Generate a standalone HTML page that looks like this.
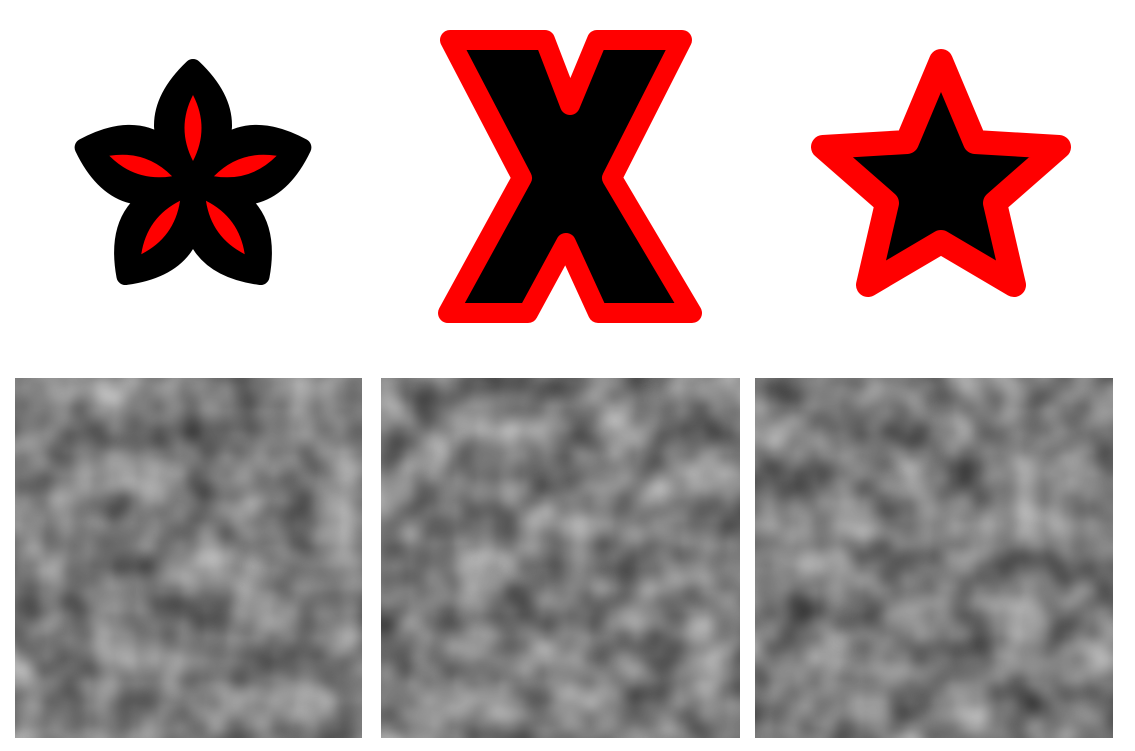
<!DOCTYPE html>
<html><head><meta charset="utf-8"><style>html,body{margin:0;padding:0;background:#fff;width:1135px;height:751px;overflow:hidden}</style></head>
<body>
<svg width="1135" height="751" viewBox="0 0 1135 751">
<defs>
<filter id="n1" x="0" y="0" width="100%" height="100%"><feTurbulence type="fractalNoise" baseFrequency="0.022" numOctaves="2" seed="3"/><feColorMatrix type="matrix" values="0 0 0 0 0  0 0 0 0 0  0 0 0 0 0  1.2 0 0 0 -0.1"/></filter>
<filter id="n2" x="0" y="0" width="100%" height="100%"><feTurbulence type="fractalNoise" baseFrequency="0.022" numOctaves="2" seed="11"/><feColorMatrix type="matrix" values="0 0 0 0 0  0 0 0 0 0  0 0 0 0 0  1.2 0 0 0 -0.1"/></filter>
<filter id="n3" x="0" y="0" width="100%" height="100%"><feTurbulence type="fractalNoise" baseFrequency="0.022" numOctaves="2" seed="27"/><feColorMatrix type="matrix" values="0 0 0 0 0  0 0 0 0 0  0 0 0 0 0  1.2 0 0 0 -0.1"/></filter>
<path id="bp" d="M0,0 Q-60,-58 0,-115 Q60,-58 0,0Z"/>
<path id="rp" d="M0,-22 Q-17,-55 0,-88 Q17,-55 0,-22Z"/>
</defs>
<g transform="translate(193,183)">
  <g fill="#000" stroke="#000" stroke-width="18" stroke-linejoin="round">
    <circle r="48"/>
    <use href="#bp"/><use href="#bp" transform="rotate(72)"/><use href="#bp" transform="rotate(144)"/><use href="#bp" transform="rotate(216)"/><use href="#bp" transform="rotate(288)"/>
  </g>
  <g fill="#f00">
    <use href="#rp"/><use href="#rp" transform="rotate(72)"/><use href="#rp" transform="rotate(144)"/><use href="#rp" transform="rotate(216)"/><use href="#rp" transform="rotate(288)"/>
  </g>
</g>
<polygon fill="#000" stroke="#f00" stroke-width="20" stroke-linejoin="round"
 points="450,40 545,40 570,105 597,40 682,40 612,178 692,313 598,313 566,243 528,313 448,313 522,178"/>
<polygon fill="#000" stroke="#f00" stroke-width="24" stroke-linejoin="round"
 points="941,61 975,142 1059,147 995,203 1014,285 941,242 868,285 887,203 823,147 907,142"/>
<g><rect x="15" y="378" width="347" height="360" fill="#c0c0c0"/><rect x="15" y="378" width="347" height="360" fill="#000" filter="url(#n1)" opacity="0.7"/></g>
<g><rect x="381" y="378" width="359" height="360" fill="#c0c0c0"/><rect x="381" y="378" width="359" height="360" fill="#000" filter="url(#n2)" opacity="0.7"/></g>
<g><rect x="755" y="378" width="358" height="360" fill="#c0c0c0"/><rect x="755" y="378" width="358" height="360" fill="#000" filter="url(#n3)" opacity="0.7"/></g>
</svg>
</body></html>
